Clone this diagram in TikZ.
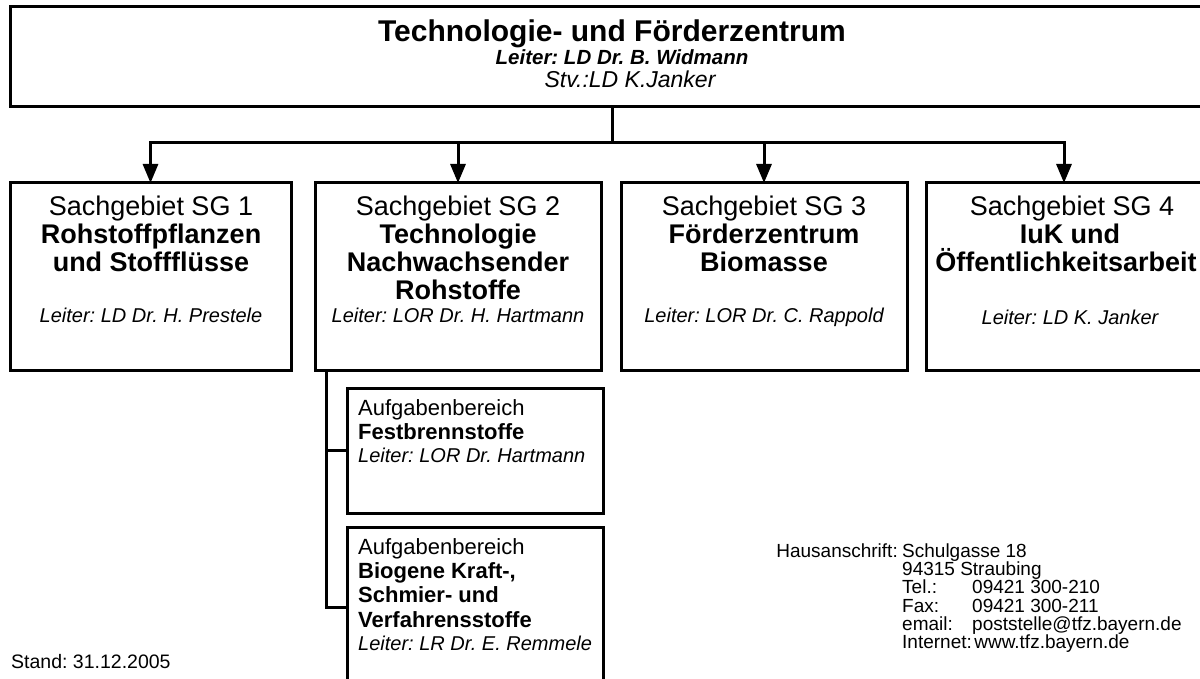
\documentclass[tikz,border=0pt]{standalone}
\usepackage{fontspec}
\setmainfont{Liberation Sans}
\usetikzlibrary{arrows.meta}
\newcommand{\setfs}[1]{\fontsize{#1pt}{#1pt}\selectfont}
\begin{document}
\frenchspacing
\begin{tikzpicture}[x=1pt,y=-1pt,
  box/.style={draw, line width=3pt, inner sep=0pt, outer sep=0pt, anchor=north west},
  conn/.style={line width=3pt},
  arr/.style={line width=3pt, -{Triangle[length=19pt,width=15pt]}},
  txt/.style={inner sep=0pt, anchor=base, font=\frenchspacing},
  ltxt/.style={inner sep=0pt, anchor=base west},
  rtxt/.style={inner sep=0pt, anchor=base east},
  sgreg/.style={txt, font=\setfs{27}},
  sgbold/.style={txt, font=\bfseries\setfs{27}},
  sglead/.style={txt, font=\itshape\setfs{20}},
  abreg/.style={ltxt, font=\setfs{22}},
  abbold/.style={ltxt, font=\bfseries\setfs{22}},
  ablead/.style={ltxt, font=\itshape\setfs{20}},
  addr/.style={ltxt, font=\setfs{19}}]
\useasboundingbox (0,0) rectangle (1200,679);
\clip (0,0) rectangle (1200,679);
\fill[white] (0,0) rectangle (1200,679);

% boxes
\node[box, minimum width=1215pt, minimum height=100pt] (top) at (10,7) {};
\node[box, minimum width=281pt, minimum height=187pt] (sg1) at (10,183) {};
\node[box, minimum width=286pt, minimum height=187pt] (sg2) at (315,183) {};
\node[box, minimum width=286pt, minimum height=187pt] (sg3) at (621,183) {};
\node[box, minimum width=276pt, minimum height=187pt] (sg4) at (926,183) {};
\node[box, minimum width=256pt, minimum height=125pt] (sub1) at (347,388) {};
\node[box, minimum width=256pt, minimum height=160pt] (sub2) at (347,527) {};

% connectors
\coordinate (hub) at (612,143);
\coordinate (vx) at (326,0);
\draw[conn] (top.south -| hub) -- (hub);
\draw[conn, line cap=rect] (sg1.north |- hub) -- (sg4.north |- hub);
\draw[arr] (sg1.north |- hub) -- (sg1.north);
\draw[arr] (sg2.north |- hub) -- (sg2.north);
\draw[arr] (sg3.north |- hub) -- (sg3.north);
\draw[arr] (sg4.north |- hub) -- (sg4.north);
\draw[conn] (sg2.south -| vx) -- (vx |- sub2.west) -- (sub2.west);
\draw[conn] (vx |- sub1.west) -- (sub1.west);

% top texts
\node[txt, font=\bfseries\setfs{30}] (t1) at (612,42) {Technologie- und Förderzentrum};
\node[txt, font=\bfseries\itshape\setfs{20.5}] (t2) at (622,65) {Leiter: LD Dr. B. Widmann};
\node[txt, font=\itshape\setfs{23}] (t3) at (630,88) {Stv.:LD K.Janker};

% SG1
\node[sgreg] (s1a) at (151,216) {Sachgebiet SG 1};
\node[sgbold] (s1b) at (151,244) {Rohstoffpflanzen};
\node[sgbold] (s1c) at (151,272) {und Stoffflüsse};
\node[sglead] (s1d) at (151,323) {Leiter: LD Dr. H. Prestele};
% SG2
\node[sgreg] (s2a) at (458,216) {Sachgebiet SG 2};
\node[sgbold] (s2b) at (458,244) {Technologie};
\node[sgbold] (s2c) at (458,272) {Nachwachsender};
\node[sgbold] (s2d) at (458,300) {Rohstoffe};
\node[sglead] (s2e) at (458,323) {Leiter: LOR Dr. H. Hartmann};
% SG3
\node[sgreg] (s3a) at (764,216) {Sachgebiet SG 3};
\node[sgbold] (s3b) at (764,244) {Förderzentrum};
\node[sgbold] (s3c) at (764,272) {Biomasse};
\node[sglead] (s3d) at (764,323) {Leiter: LOR Dr. C. Rappold};
% SG4
\node[sgreg] (s4a) at (1072,216) {Sachgebiet SG 4};
\node[sgbold] (s4b) at (1070,244) {IuK und};
\node[sgbold] (s4c) at (1066,272) {Öffentlichkeitsarbeit};
\node[sglead] (s4d) at (1070,324) {Leiter: LD K. Janker};

% sub boxes
\node[abreg] (a1a) at (358,415) {Aufgabenbereich};
\node[abbold] (a1b) at (358,439) {Festbrennstoffe};
\node[ablead] (a1c) at (358,462) {Leiter: LOR Dr. Hartmann};
\node[abreg] (a2a) at (358,554) {Aufgabenbereich};
\node[abbold] (a2b) at (358,578) {Biogene Kraft-,};
\node[abbold] (a2c) at (358,602) {Schmier- und};
\node[abbold] (a2d) at (358,627) {Verfahrensstoffe};
\node[ablead] (a2e) at (358,650) {Leiter: LR Dr. E. Remmele};

% address
\node[rtxt, font=\setfs{19}] (h0) at (898,557) {Hausanschrift:};
\node[addr] (h1) at (902,557) {Schulgasse 18};
\node[addr] (h2) at (902,575) {94315 Straubing};
\node[addr] (h3) at (902,593) {Tel.:};
\node[addr] (h3v) at (972,593) {09421 300-210};
\node[addr] (h4) at (902,612) {Fax:};
\node[addr] (h4v) at (972,612) {09421 300-211};
\node[addr] (h5) at (902,630) {email:};
\node[addr] (h5v) at (972,630) {poststelle@tfz.bayern.de};
\node[addr] (h6) at (902,648) {Internet:};
\node[addr, anchor=base west] (h6v) at ([xshift=2pt]h6.base east) {www.tfz.bayern.de};

% date
\node[ltxt, font=\setfs{19.5}] (stand) at (11,668) {Stand: 31.12.2005};
\end{tikzpicture}
\end{document}
